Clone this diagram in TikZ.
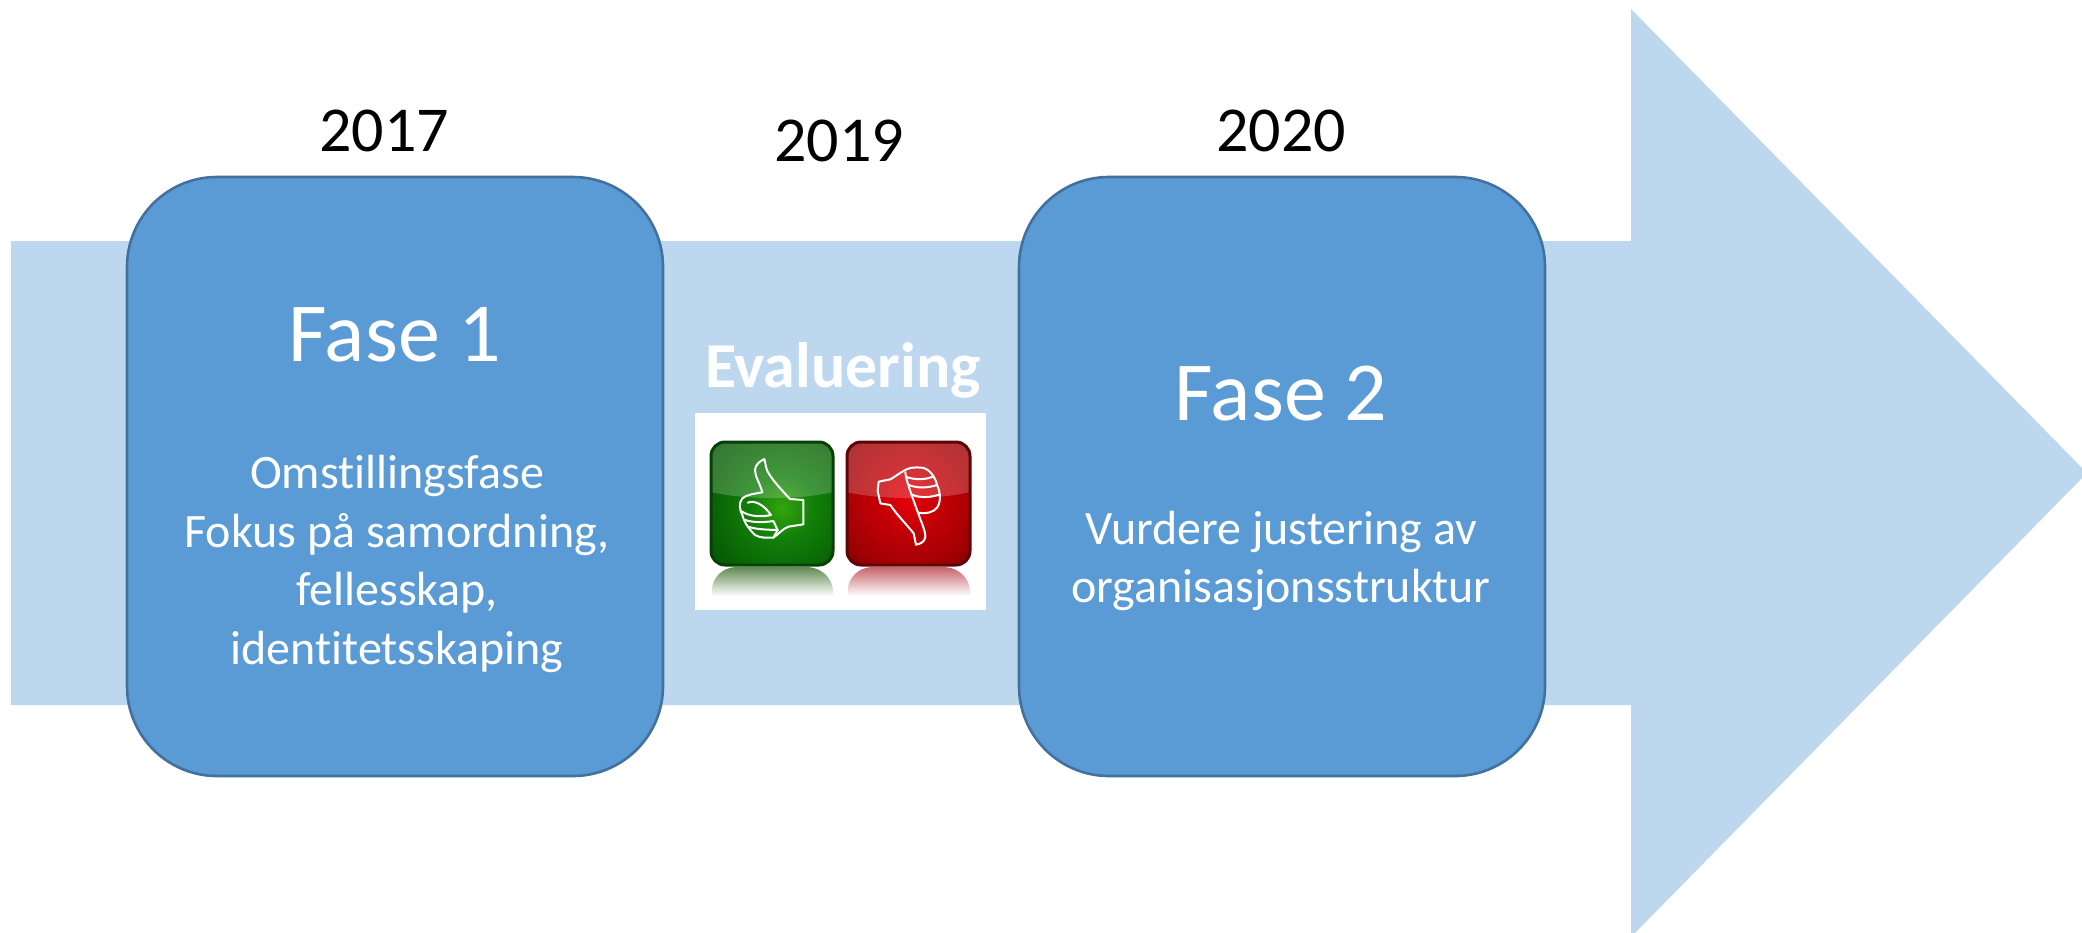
\documentclass[tikz,border=0pt]{standalone}
\usepackage{fontspec}
\setmainfont{Carlito}[Ligatures={NoCommon}]
\definecolor{shaft}{HTML}{BDD7EE}
\definecolor{boxfill}{HTML}{5B9BD5}
\definecolor{boxline}{HTML}{41719C}
\definecolor{ga}{HTML}{34A40E}
\definecolor{gb}{HTML}{12800A}
\definecolor{gc}{HTML}{096405}
\definecolor{gd}{HTML}{003E00}
\definecolor{ra}{HTML}{E60008}
\definecolor{rb}{HTML}{C40006}
\definecolor{rc}{HTML}{A40004}
\definecolor{rd}{HTML}{580004}
\definecolor{gedge}{HTML}{064006}
\definecolor{redge}{HTML}{5C0608}
\definecolor{grefl}{HTML}{5F8A52}
\definecolor{rrefl}{HTML}{C8636A}
\pgfdeclareradialshading{greenbtn}{\pgfpoint{0bp}{0bp}}{color(0bp)=(ga); color(9bp)=(gb); color(20bp)=(gc); color(36bp)=(gd); color(50bp)=(gd)}
\pgfdeclareradialshading{redbtn}{\pgfpoint{0bp}{0bp}}{color(0bp)=(ra); color(9bp)=(rb); color(20bp)=(rc); color(36bp)=(rd); color(50bp)=(rd)}
\tikzset{
  phasebox/.style={draw=boxline,line width=1.3pt,fill=boxfill},
  yearlabel/.style={font=\fontsize{32}{38}\selectfont,text=black,inner sep=0pt,anchor=center},
  bigtitle/.style={font=\fontsize{42}{50}\selectfont,text=white,inner sep=0pt,anchor=center},
  bodytext/.style={font=\fontsize{24}{29.2}\selectfont,text=white,inner sep=0pt,anchor=center,align=center},
  evaltext/.style={font=\fontsize{32}{38}\selectfont\bfseries,text=white,inner sep=0pt,anchor=center},
  handline/.style={draw=white,line width=1pt,line join=round,line cap=round},
  gloss/.style={fill=white,opacity=0.2}
}
\begin{document}
\begin{tikzpicture}[x=0.5pt,y=-0.5pt]
\useasboundingbox (0,0) rectangle (2082,932);
\fill[white] (0,0) rectangle (2082,932);
\fill[shaft] (11,241) -- (1631,241) -- (1631,9) -- (2087,473) -- (1631,937) -- (1631,705) -- (11,705) -- cycle;
\draw[phasebox,rounded corners=45pt] (127,177) rectangle (663,776);
\draw[phasebox,rounded corners=45pt] (1019,177) rectangle (1545,776);
\node[yearlabel] (y17) at (384,131) {2017};
\node[yearlabel] (y19) at (839,141) {2019};
\node[yearlabel] (y20) at (1281,131) {2020};
\node[bigtitle] (f1) at (395,335) {Fase 1};
\node[bigtitle] (f2) at (1281,394) {Fase 2};
\node[bodytext] (t1) at (397,564) {Omstillingsfase\\Fokus på samordning,\\fellesskap,\\identitetsskaping};
\node[bodytext] (t2) at (1281,561) {Vurdere justering av\\organisasjonsstruktur};
\node[evaltext] (ev) at (843,370) {Evaluering};
\fill[white] (695,413) rectangle (986,610);
% green button
\begin{scope}
\clip[rounded corners=7pt] (711,442) rectangle (833,565);
\shade[shading=greenbtn] (697,423) rectangle (867,593);
\fill[gloss] (711,442) -- (833,442) -- (833,492) .. controls (800,500) and (744,500) .. (711,492) -- cycle;
\end{scope}
\draw[draw=gedge,line width=1.5pt,rounded corners=7pt] (711,442) rectangle (833,565);
\shade[top color=grefl,middle color=grefl!60!white,bottom color=white] (712,590) .. controls (712,578) and (722,568) .. (735,567) -- (808,567) .. controls (822,568) and (832,578) .. (833,590) -- (833,596) -- (712,596) -- cycle;
% red button
\begin{scope}
\clip[rounded corners=7pt] (847,442) rectangle (970,565);
\shade[shading=redbtn] (824,413) rectangle (994,583);
\fill[gloss] (847,442) -- (970,442) -- (970,492) .. controls (937,500) and (880,500) .. (847,492) -- cycle;
\end{scope}
\draw[draw=redge,line width=1.5pt,rounded corners=7pt] (847,442) rectangle (970,565);
\shade[top color=rrefl,middle color=rrefl!60!white,bottom color=white] (848,590) .. controls (848,578) and (858,568) .. (871,567) -- (945,567) .. controls (959,568) and (969,578) .. (970,590) -- (970,596) -- (848,596) -- cycle;
% thumbs up (3x crop units)
\begin{scope}[shift={(705,435)},x=0.16667pt,y=-0.16667pt]
\draw[handline] (178,72) .. controls (165,78) and (150,90) .. (150,105) .. controls (150,125) and (165,145) .. (172,172) .. controls (150,176) and (125,178) .. (112,190) .. controls (100,205) and (104,225) .. (112,240) .. controls (118,265) and (135,285) .. (150,300) .. controls (165,310) and (190,308) .. (205,308) .. controls (220,298) and (232,282) .. (250,275) -- (295,268) -- (295,195) -- (255,192) .. controls (235,170) and (205,140) .. (188,110) .. controls (182,98) and (182,85) .. (178,72) -- cycle;
\draw[handline] (128,203) .. controls (150,195) and (175,208) .. (198,240) .. controls (170,246) and (135,246) .. (108,228);
\draw[handline] (118,254) .. controls (145,264) and (180,262) .. (205,258) -- (218,285);
\draw[handline] (132,276) .. controls (160,284) and (190,284) .. (218,285) -- (205,308);
% thumbs down
\begin{scope}[shift={(411,0)}]
\draw[handline] (222,329) .. controls (235,326) and (248,322) .. (250,305) .. controls (250,285) and (236,258) .. (228,233) .. controls (250,238) and (275,232) .. (285,218) .. controls (298,200) and (295,170) .. (285,150) .. controls (280,125) and (260,100) .. (240,98) .. controls (220,96) and (200,98) .. (190,105) .. controls (170,115) and (155,128) .. (145,133) -- (110,140) -- (107,168) -- (115,205) -- (145,210) .. controls (165,240) and (195,270) .. (215,295) -- cycle;
\draw[handline] (190,112) .. controls (192,135) and (205,170) .. (228,233);
\draw[handline] (192,125) .. controls (215,135) and (250,135) .. (272,125);
\draw[handline] (197,148) .. controls (220,160) and (255,160) .. (285,150);
\draw[handline] (208,178) .. controls (235,190) and (265,188) .. (293,178);
\end{scope}
\end{scope}
\end{tikzpicture}
\end{document}
